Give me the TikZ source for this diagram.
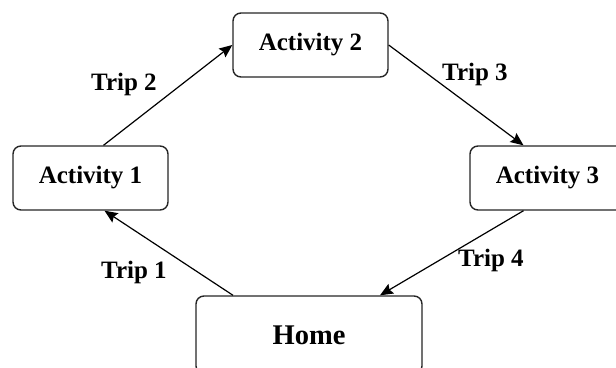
\documentclass[tikz,border=0pt]{standalone}
\usepackage{tikz}
\usetikzlibrary{arrows.meta}
\usepackage{fontspec}
\setmainfont{Liberation Serif}
\tikzset{
    actbox/.style={draw=black!85,line width=1.4pt,rounded corners=8pt,fill=white,
        minimum width=155pt,minimum height=64pt,font=\fontsize{25}{29}\selectfont\bfseries},
    triplabel/.style={font=\fontsize{25}{29}\selectfont\bfseries},
    trip/.style={line width=1.2pt,-{Stealth[length=13pt,width=11pt,inset=2pt]}}
}

\begin{document}
\begin{tikzpicture}[x=1pt,y=-1pt]
        \clip (0,0) rectangle (616,367);
        \node[actbox] (act2) at (310.5,45) {Activity 2};
        \node[actbox] (act1) at (90.5,178) {Activity 1};
        \node[actbox] (act3) at (547.5,178) {Activity 3};
        \node[actbox,minimum width=226pt,minimum height=78pt,font=\fontsize{28.5}{33}\selectfont\bfseries] (home) at (309,335) {Home};
        \draw[trip] ([xshift=-76pt]home.north) -- ([xshift=14pt]act1.south);
        \draw[trip] ([xshift=13pt]act1.north) -- (act2.west);
        \draw[trip] (act2.east) -- ([xshift=-24pt]act3.north);
        \draw[trip] ([xshift=-24pt]act3.south) -- ([xshift=71pt]home.north);
        \node[triplabel] (lab1) at (134,272) {Trip 1};
        \node[triplabel] (lab2) at (124,84) {Trip 2};
        \node[triplabel] (lab3) at (475,74) {Trip 3};
        \node[triplabel] (lab4) at (491,260) {Trip 4};
    \end{tikzpicture}
\end{document}
